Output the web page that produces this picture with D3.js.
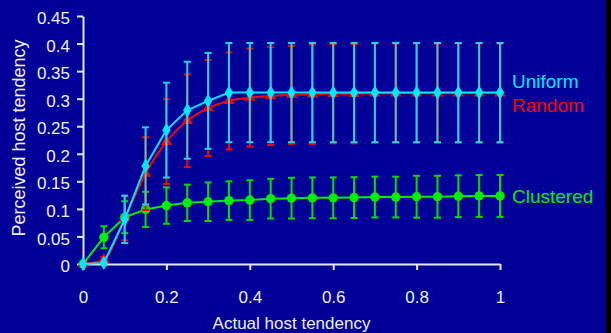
<!DOCTYPE html>
<html><head><meta charset="utf-8">
<script src="https://cdn.jsdelivr.net/npm/d3@7"></script>
<style>html,body{margin:0;padding:0;background:#000099;overflow:hidden}svg{display:block}</style>
</head><body>
<svg id="c" width="611" height="333"></svg>
<script>
const xs = [0,0.05,0.1,0.15,0.2,0.25,0.3,0.35,0.4,0.45,0.5,0.55,0.6,0.65,0.7,0.75,0.8,0.85,0.9,0.95,1];
const uniform    = [0,0.002,0.081,0.178,0.243,0.279,0.296,0.311,0.311,0.311,0.311,0.311,0.311,0.311,0.311,0.311,0.311,0.311,0.311,0.311,0.311];
const uniformErr = [0,0,0.043,0.07,0.086,0.088,0.087,0.09,0.09,0.09,0.09,0.09,0.09,0.09,0.09,0.09,0.09,0.09,0.09,0.09,0.09];
const random     = [0,0.008,0.083,0.164,0.222,0.26,0.283,0.296,0.302,0.305,0.307,0.308,0.309,0.309,0.31,0.31,0.31,0.31,0.31,0.31,0.31];
const randomErr  = [0.002,0.005,0.04,0.066,0.077,0.084,0.087,0.088,0.089,0.089,0.089,0.09,0.09,0.09,0.09,0.09,0.09,0.09,0.09,0.09,0.09];
const clustered  = [0,0.0485,0.085,0.099,0.106,0.111,0.113,0.115,0.116,0.1185,0.1195,0.12,0.12,0.1205,0.1215,0.1215,0.122,0.122,0.123,0.1235,0.1235];
const clusteredErr = [0,0.02,0.029,0.032,0.033,0.033,0.035,0.035,0.036,0.036,0.037,0.037,0.037,0.037,0.037,0.037,0.038,0.038,0.038,0.038,0.038];
const xTicks = [0,0.2,0.4,0.6,0.8,1];
const yTicks = [0,0.05,0.1,0.15,0.2,0.25,0.3,0.35,0.4,0.45];
const xTickLabels = ["0","0.2","0.4","0.6","0.8","1"];
const yTickLabels = ["0","0.05","0.1","0.15","0.2","0.25","0.3","0.35","0.4","0.45"];

const svg = d3.select("#c");
const font = "Arial, 'Liberation Sans', sans-serif";
svg.append("rect").attr("width",611).attr("height",333).attr("fill","#000099");
svg.append("rect").attr("x",605).attr("width",6).attr("height",333).attr("fill","#000000");

const x = d3.scaleLinear().domain([0,1]).range([83,500]);
const y = d3.scaleLinear().domain([0,0.45]).range([264,16]);
const axisCol = "#e6e6ee";

// axes
const gx = svg.append("g").attr("transform","translate(0,264)")
  .call(d3.axisBottom(x).tickValues(xTicks).tickFormat((d,i)=>xTickLabels[i]).tickSizeInner(6).tickSizeOuter(0).tickPadding(21));
const gy = svg.append("g").attr("transform","translate(83,0)")
  .call(d3.axisLeft(y).tickValues(yTicks).tickFormat((d,i)=>yTickLabels[i]).tickSizeInner(6).tickSizeOuter(0).tickPadding(7));
[gx,gy].forEach(g=>{
  g.select(".domain").attr("stroke",axisCol).attr("stroke-width",2);
  g.selectAll(".tick line").attr("stroke",axisCol).attr("stroke-width",2);
  g.selectAll(".tick text").attr("fill","#f0f0f0").style("font-family",font).style("font-size","17px");
});
gy.selectAll(".tick text").attr("dy","0.45em");
gx.selectAll(".tick text").attr("dy","0.71em");

svg.append("text").attr("x",291.5).attr("y",329).attr("text-anchor","middle")
  .attr("fill","#f0f0f0").style("font-family",font).style("font-size","17px").text("Actual host tendency");
svg.append("text").attr("transform","translate(25,138) rotate(-90)").attr("text-anchor","middle")
  .attr("fill","#f0f0f0").style("font-family",font).style("font-size","18px").text("Perceived host tendency");

function series(vals, errs, color, errColor, marker, curve){
  const pts = xs.map((xv,i)=>({x:xv,y:vals[i],e:errs[i]}));
  const g = svg.append("g");
  const eb = g.append("g").attr("stroke",errColor).attr("stroke-width",2);
  pts.forEach(p=>{
    if(p.e<=0) return;
    eb.append("line").attr("x1",x(p.x)).attr("x2",x(p.x)).attr("y1",y(p.y+p.e)).attr("y2",y(p.y-p.e));
    [p.y+p.e,p.y-p.e].forEach(v=>eb.append("line").attr("x1",x(p.x)-3.5).attr("x2",x(p.x)+3.5).attr("y1",y(v)).attr("y2",y(v)));
  });
  g.append("path").datum(pts).attr("fill","none").attr("stroke",color).attr("stroke-width",2)
    .attr("d",d3.line().x(d=>x(d.x)).y(d=>y(d.y)).curve(curve));
  g.selectAll("path.m").data(pts).join("path").attr("class","m")
    .attr("transform",d=>`translate(${x(d.x)},${y(d.y)})`)
    .attr("d",d3.symbol().type(marker.type).size(marker.size)).attr("fill",color);
}

series(clustered, clusteredErr, "#00ee00", "#00dd00", {type:d3.symbolCircle,size:70}, d3.curveLinear);
series(random, randomErr, "#ff0000", "#ff0000", {type:d3.symbolTriangle,size:55}, d3.curveMonotoneX);
series(uniform, uniformErr, "#00e8ff", "#22d4e4", {type:d3.symbolDiamond,size:60}, d3.curveLinear);

const legend = [["Uniform","#00e8ff",88],["Random","#ff0000",112],["Clustered","#00ee00",203]];
legend.forEach(([t,c,yy])=>svg.append("text").attr("x",512).attr("y",yy).attr("fill",c)
  .style("font-family",font).style("font-size","19px").text(t));
</script>
</body></html>
